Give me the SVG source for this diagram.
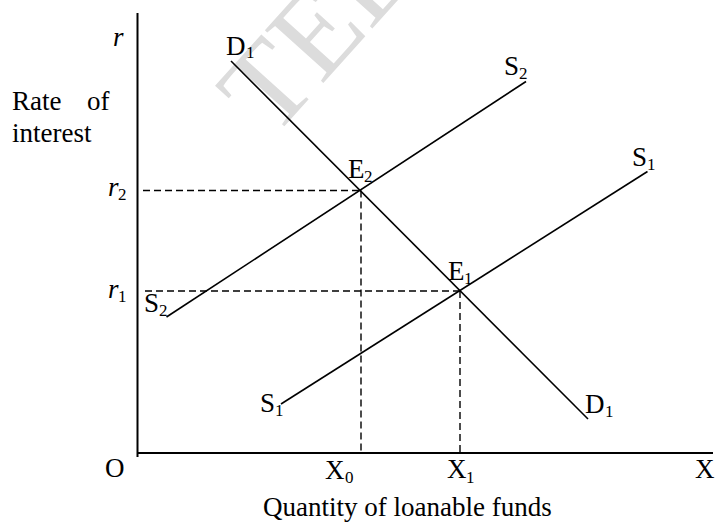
<svg xmlns="http://www.w3.org/2000/svg" width="715" height="524" viewBox="0 0 715 524">
<style>
  text { font-family: "Liberation Serif", "Times New Roman", serif; fill: #000; }
  .lbl { font-size: 27px; }
  .sub { font-size: 17px; }
  .it { font-style: italic; }
  .axis { stroke: #000; stroke-width: 2; fill: none; }
  .curve { stroke: #000; stroke-width: 1.6; fill: none; }
  .dash { stroke: #000; stroke-width: 1.4; fill: none; stroke-dasharray: 7 4; }
  .wm { font-size: 120px; fill: #dcdcdc; }
</style>
<rect width="715" height="524" fill="#fff"/>
<text class="wm" transform="translate(272,140) rotate(-48)">TEL</text>
<g id="axes">
  <line class="axis" x1="137.5" y1="13" x2="137.5" y2="457"/>
  <line class="axis" x1="137" y1="453" x2="713" y2="453"/>
</g>
<g id="connectors">
  <line class="dash" x1="143" y1="190.5" x2="360" y2="190.5"/>
  <line class="dash" x1="145" y1="291" x2="460" y2="291"/>
  <line class="dash" x1="361" y1="190.5" x2="361" y2="453"/>
  <line class="dash" x1="460" y1="291" x2="460" y2="453"/>
</g>
<g id="D1">
  <line class="curve" x1="231" y1="61" x2="588" y2="419"/>
  <text class="lbl" x="226" y="55">D</text><text class="sub" x="246" y="58">1</text>
  <text class="lbl" x="585" y="413">D</text><text class="sub" x="605" y="417">1</text>
</g>
<g id="S2">
  <line class="curve" x1="166.5" y1="317" x2="526" y2="81.5"/>
  <text class="lbl" x="504" y="75">S</text><text class="sub" x="519" y="79">2</text>
  <text class="lbl" x="144" y="312">S</text><text class="sub" x="159" y="316">2</text>
</g>
<g id="S1">
  <line class="curve" x1="281" y1="404" x2="647.5" y2="171.5"/>
  <text class="lbl" x="632" y="166">S</text><text class="sub" x="647" y="170">1</text>
  <text class="lbl" x="260" y="412">S</text><text class="sub" x="275" y="416">1</text>
</g>
<g id="E2">
  <text class="lbl" x="348" y="178">E</text><text class="sub" x="364" y="182">2</text>
</g>
<g id="E1">
  <text class="lbl" x="448" y="280">E</text><text class="sub" x="464" y="284">1</text>
</g>
<g id="y-labels">
  <text class="lbl it" x="113" y="46">r</text>
  <text class="lbl" x="12" y="110">Rate</text>
  <text class="lbl" x="87" y="110">of</text>
  <text class="lbl" x="12" y="142">interest</text>
  <text class="lbl it" x="108" y="196">r</text><text class="sub" x="118" y="200">2</text>
  <text class="lbl it" x="108" y="298">r</text><text class="sub" x="118" y="302">1</text>
</g>
<g id="x-labels">
  <text class="lbl" x="105" y="477">O</text>
  <text class="lbl" x="325" y="479">X</text><text class="sub" x="345" y="483">0</text>
  <text class="lbl" x="447" y="478">X</text><text class="sub" x="466" y="483">1</text>
  <text class="lbl" x="695" y="478">X</text>
  <text class="lbl" x="263" y="516">Quantity of loanable funds</text>
</g>
</svg>
